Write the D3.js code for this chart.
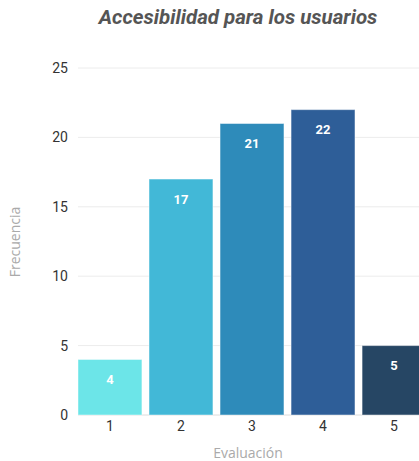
<!DOCTYPE html>
<html><head><meta charset="utf-8">
<script src="https://cdn.jsdelivr.net/npm/d3@7"></script>
<style>body{margin:0;background:#fff;} svg{display:block;}</style>
</head><body>
<script>
const categories = ["1","2","3","4","5"];
const values = [4,17,21,22,5];
const colors = ["#6ce5e8","#42b8d7","#2e8bba","#2e5e98","#264664"];
const yTicks = [0,5,10,15,20,25];
const title = "Accesibilidad para los usuarios";
const xTitle = "Evaluación";
const yTitle = "Frecuencia";

const W = 419, H = 461;
const svg = d3.select("body").append("svg").attr("width", W).attr("height", H);
const font = "Roboto, 'Open Sans', sans-serif";
const font2 = "'Open Sans', Roboto, sans-serif";

const x = d3.scaleBand().domain(categories).range([78, 426]).paddingInner(0.1).paddingOuter(0);
const y = d3.scaleLinear().domain([0, 25]).range([415, 68]);

// grid
svg.append("g").selectAll("line").data(yTicks).join("line")
  .attr("x1", 78).attr("x2", W).attr("y1", d => y(d)).attr("y2", d => y(d))
  .attr("stroke", d => d === 0 ? "#dcdcdc" : "#ececec").attr("stroke-width", 1);

// y axis labels
const yAxis = d3.axisLeft(y).tickValues(yTicks).tickSize(0).tickPadding(10);
svg.append("g").attr("transform", "translate(78,0)").call(yAxis)
  .call(g => g.select(".domain").remove())
  .call(g => g.selectAll("text").attr("font-family", font).attr("font-size", 14).attr("fill", "#333"));

// x axis labels
const xAxis = d3.axisBottom(x).tickSize(0).tickPadding(6);
svg.append("g").attr("transform", "translate(0,415)").call(xAxis)
  .call(g => g.select(".domain").remove())
  .call(g => g.selectAll("text").attr("font-family", font).attr("font-size", 14).attr("fill", "#333"));

// bars
svg.append("g").selectAll("rect").data(values).join("rect")
  .attr("x", (d,i) => x(categories[i]))
  .attr("y", d => y(d))
  .attr("width", x.bandwidth())
  .attr("height", d => y(0) - y(d))
  .attr("fill", (d,i) => colors[i])
  .attr("stroke", "rgba(255,255,255,0.45)").attr("stroke-width", 1);

// value labels
svg.append("g").selectAll("text").data(values).join("text")
  .attr("x", (d,i) => x(categories[i]) + x.bandwidth()/2)
  .attr("y", d => Math.min(y(d) + 20, (y(d) + y(0))/2))
  .attr("dy", "0.35em")
  .attr("text-anchor", "middle")
  .attr("font-family", font).attr("font-size", 13).attr("font-weight", "bold")
  .attr("fill", "#fff")
  .text(d => d);

// title
svg.append("text").attr("x", 238).attr("y", 24).attr("text-anchor", "middle")
  .attr("font-family", font).attr("font-size", 20.5).attr("font-weight", "bold").attr("font-style", "italic")
  .attr("fill", "#555").text(title);

// axis titles
svg.append("text").attr("x", 248).attr("y", 458).attr("text-anchor", "middle")
  .attr("font-family", font2).attr("font-size", 14).attr("fill", "#aaa").text(xTitle);
svg.append("text").attr("transform", "translate(20,242) rotate(-90)").attr("text-anchor", "middle")
  .attr("font-family", font2).attr("font-size", 14).attr("fill", "#aaa").text(yTitle);
</script>
</body></html>
